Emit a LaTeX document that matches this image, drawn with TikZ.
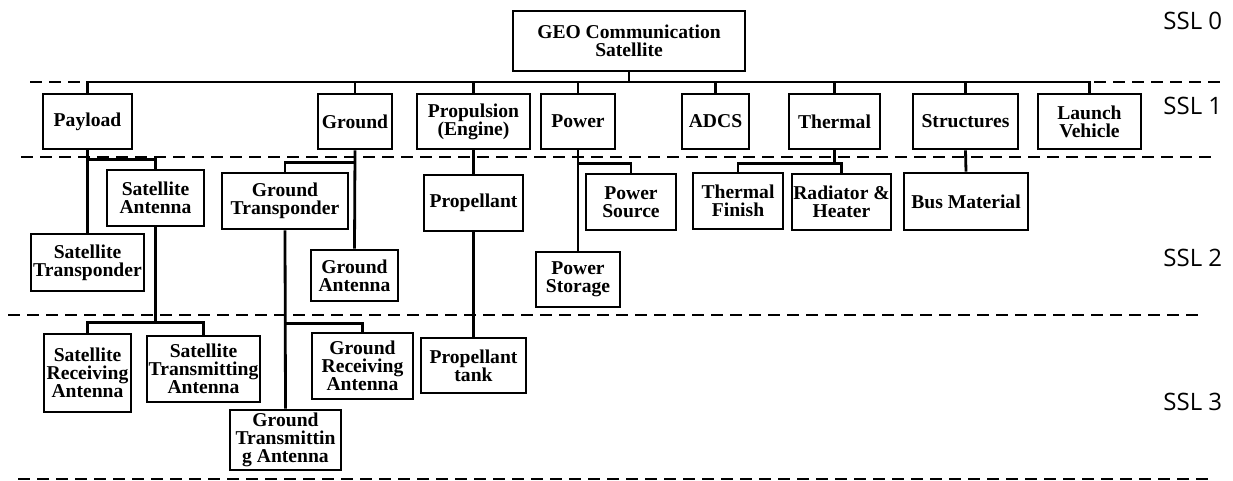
\documentclass[tikz,border=0pt]{standalone}
\usepackage{fontspec}
\setmainfont{Liberation Serif}
\newfontfamily\sslfont{Open Sans}
\begin{document}
\begin{tikzpicture}[x=0.5pt,y=-0.5pt,line width=1.4pt,
        blk/.style 2 args={draw,rectangle,inner sep=0pt,align=center,
            minimum width=#1*0.5pt,minimum height=#2*0.5pt,
            font=\bfseries\fontsize{9.8}{9.1}\selectfont},
        level/.style={line width=1pt,dash pattern=on 6pt off 3.5pt},
        ssl/.style={anchor=west,inner sep=0pt,
            font=\sslfont\fontsize{12}{14}\selectfont}]
    \useasboundingbox (0,0) rectangle (1233,481);

    % level separators
    \draw[level] (30,82) -- (1220,82);
    \draw[level] (21,157) -- (1212,157);
    \draw[level] (8,315) -- (1198,315);
    \draw[level] (18,479) -- (1208,479);

    \node[ssl] (ssl0) at (1162,21) {SSL 0};
    \node[ssl] (ssl1) at (1162,106) {SSL 1};
    \node[ssl] (ssl2) at (1162,258) {SSL 2};
    \node[ssl] (ssl3) at (1162,402) {SSL 3};

    % SSL 0
    \node[blk={232}{60}] (geo) at (629,41) {GEO Communication\\Satellite};

    % SSL 1
    \node[blk={89}{55}] (pay) at (87.5,121.5) {Payload};
    \node[blk={74}{55}] (gnd) at (355,121.5) {Ground};
    \node[blk={113}{55}] (prop) at (473.5,121.5) {Propulsion\\(Engine)};
    \node[blk={74}{55}] (pow) at (578,121.5) {Power};
    \node[blk={67}{55}] (adcs) at (715.5,121.5) {ADCS};
    \node[blk={91}{55}] (therm) at (834.5,121.5) {Thermal};
    \node[blk={105}{55}] (struc) at (965.5,121.5) {Structures};
    \node[blk={103}{55}] (lv) at (1089.5,121.5) {Launch\\Vehicle};

    % SSL 2
    \node[blk={97}{56}] (satant) at (155.5,198) {Satellite\\Antenna};
    \node[blk={113}{57}] (sattr) at (87.5,262.5) {Satellite\\Transponder};
    \node[blk={126}{56}] (gndtr) at (285,201) {Ground\\Transponder};
    \node[blk={87}{51}] (gndant) at (354.5,275.5) {Ground\\Antenna};
    \node[blk={99}{56}] (propel) at (473.5,203) {Propellant};
    \node[blk={90}{56}] (powsrc) at (631,202) {Power\\Source};
    \node[blk={84}{55}] (powsto) at (578,279.5) {Power\\Storage};
    \node[blk={90}{56}] (thfin) at (738,201) {Thermal\\Finish};
    \node[blk={99}{56}] (rad) at (841.5,202) {Radiator \&\\Heater};
    \node[blk={124}{57}] (busmat) at (966,201.5) {Bus Material};

    % SSL 3
    \node[blk={87}{78}] (satrx) at (87.5,373) {Satellite\\Receiving\\Antenna};
    \node[blk={113}{66}] (sattx) at (203.5,369) {Satellite\\Transmitting\\Antenna};
    \node[blk={101}{66}] (gndrx) at (362.5,366) {Ground\\Receiving\\Antenna};
    \node[blk={111}{60}] (gndtx) at (285.5,440) {Ground\\Transmittin\\g Antenna};
    \node[blk={105}{55}] (tank) at (473.5,365.5) {Propellant\\tank};

    % tree
    \coordinate (top) at (629,82);
    \draw (geo) -- (top);
    \foreach \n in {pay,gnd,prop,pow,adcs,therm,struc,lv}
        \draw (top) -| (\n.north);

    \draw (pay.south) -- (sattr.north);
    \draw (pay.south) ++(0,9) -| (satant.north);
    \draw (satant.south) -- ++(0,95) coordinate (sa);
    \draw (sa) -| (satrx.north);
    \draw (sa) -| (sattx.north);

    \draw (gnd.south) -- (gndant.north);
    \draw (gnd.south) ++(0,12) -| (gndtr.north);
    \draw (gndtr.south) -- (gndtx.north);
    \draw (gndtr.south) ++(0,93) -| (gndrx.north);

    \draw (prop.south) -- (propel.north);
    \draw (propel.south) -- (tank.north);

    \draw (pow.south) -- (powsto.north);
    \draw (pow.south) ++(0,13) -| (powsrc.north);

    \draw (therm.south) -- ++(0,13) coordinate (th);
    \draw (th) -| (thfin.north);
    \draw (th) -| (rad.north);

    \draw (struc.south) -- (busmat.north);
\end{tikzpicture}
\end{document}
